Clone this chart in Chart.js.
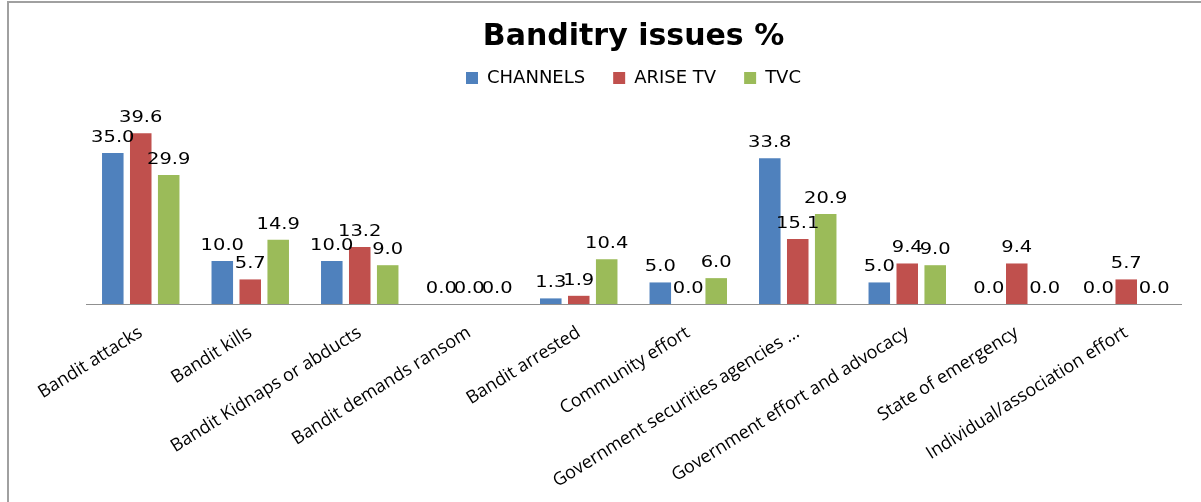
<!DOCTYPE html>
<html>
<head>
<meta charset="utf-8">
<script src="https://cdn.jsdelivr.net/npm/chart.js@4.4.0/dist/chart.umd.min.js"></script>
<style>
  html, body { margin: 0; padding: 0; background: #fff; }
  #wrap { position: relative; width: 1201px; height: 502px; overflow: hidden; }
  #frame { position: absolute; left: 7px; top: 1px; width: 1300px; height: 600px;
           border-top: 2px solid #a0a0a0; border-left: 2px solid #a0a0a0; }
  canvas { position: absolute; left: 0; top: 0; }
</style>
</head>
<body>
<div id="wrap">
  <div id="frame"></div>
  <canvas id="myBarChart" width="1201" height="502"></canvas>
</div>
<script>
// categories and values
const categories = [
    'Bandit attacks',
    'Bandit kills',
    'Bandit Kidnaps or abducts',
    'Bandit demands ransom',
    'Bandit arrested',
    'Community effort',
    'Government securities agencies ...',
    'Government effort and advocacy',
    'State of emergency',
    'Individual/association effort'
];
const channelsValues = [35.0, 10.0, 10.0, 0.0, 1.3, 5.0, 33.8, 5.0, 0.0, 0.0];
const ariseValues = [39.6, 5.7, 13.2, 0.0, 1.9, 0.0, 15.1, 9.4, 9.4, 5.7];
const tvcValues = [29.9, 14.9, 9.0, 0.0, 10.4, 6.0, 20.9, 9.0, 0.0, 0.0];

// value labels above every bar (no datalabels plugin available offline)
const valueLabels = {
    id: 'valueLabels',
    afterDatasetsDraw(chart) {
        const ctx = chart.ctx;
        ctx.save();
        ctx.font = '15px "DejaVu Sans"';
        ctx.fillStyle = '#000';
        ctx.textAlign = 'center';
        ctx.textBaseline = 'alphabetic';
        chart.data.datasets.forEach((ds, i) => {
            chart.getDatasetMeta(i).data.forEach((bar, j) => {
                ctx.save();
                ctx.translate(bar.x, bar.y - 11);
                ctx.scale(1.3, 1);
                ctx.fillText(ds.data[j].toFixed(1), 0, 0);
                ctx.restore();
            });
        });
        ctx.restore();
    }
};

// extra room between the legend and the plot
const legendGap = {
    id: 'legendGap',
    beforeInit(chart) {
        const fit = chart.legend.fit;
        chart.legend.fit = function () {
            fit.call(this);
            this.height += 13;
        };
    }
};

const barChartData = {
    labels: categories,
    datasets: [{
        label: 'CHANNELS',
        data: channelsValues,
        backgroundColor: '#4F81BD'
    }, {
        label: 'ARISE TV',
        data: ariseValues,
        backgroundColor: '#C0504D'
    }, {
        label: 'TVC',
        data: tvcValues,
        backgroundColor: '#9BBB59'
    }]
};

const barChartConfig = {
    type: 'bar',
    data: barChartData,
    options: {
        responsive: false,
        animation: false,
        categoryPercentage: 0.766,
        barPercentage: 0.77,
        layout: { padding: { left: 86, right: 20, top: 0, bottom: 0 } },
        plugins: {
            title: {
                display: true,
                text: 'Banditry issues %',
                color: '#000',
                font: { family: '"DejaVu Sans"', size: 30, weight: 'bold' },
                padding: { top: 19, bottom: -14 }
            },
            legend: {
                position: 'top',
                labels: {
                    color: '#000',
                    font: { family: '"DejaVu Sans"', size: 18 },
                    boxWidth: 12,
                    boxHeight: 12,
                    padding: 28
                }
            },
            tooltip: { enabled: false }
        },
        scales: {
            x: {
                grid: { display: false },
                border: { display: true, color: '#909090', width: 1 },
                ticks: {
                    color: '#000',
                    font: { family: '"Open Sans"', size: 18 },
                    minRotation: 32,
                    maxRotation: 32,
                    autoSkip: false,
                    padding: 10
                },
                afterFit(scale) { scale.height = 198; }
            },
            y: {
                display: false,
                beginAtZero: true,
                min: 0,
                max: 45
            }
        }
    },
    plugins: [valueLabels, legendGap]
};

new Chart(
    document.getElementById('myBarChart'),
    barChartConfig
);
</script>
</body>
</html>
